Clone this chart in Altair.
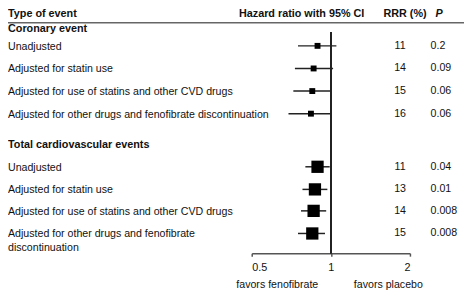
import altair as alt
import pandas as pd

# ---- data ----
labels = [
    "Unadjusted",
    "Adjusted for statin use",
    "Adjusted for use of statins and other CVD drugs",
    "Adjusted for other drugs and fenofibrate discontinuation",
    "Unadjusted",
    "Adjusted for statin use",
    "Adjusted for use of statins and other CVD drugs",
    "Adjusted for other drugs and fenofibrate\ndiscontinuation",
]
groups = ["Coronary event"] * 4 + ["Total cardiovascular events"] * 4
hr = [0.89, 0.86, 0.85, 0.84, 0.89, 0.87, 0.86, 0.85]
lo = [0.75, 0.73, 0.72, 0.69, 0.80, 0.78, 0.77, 0.75]
hi = [1.05, 1.02, 1.00, 1.00, 0.99, 0.97, 0.96, 0.95]
rrr = ["11", "14", "15", "16", "11", "13", "14", "15"]
pval = ["0.2", "0.09", "0.06", "0.06", "0.04", "0.01", "0.008", "0.008"]
row_pos = [0, 1, 2, 3, 5.35, 6.35, 7.3, 8.3]

section_titles = ["Coronary event", "Total cardiovascular events"]
section_pos = [-0.74, 4.39]

headers = ["Type of event", "Hazard ratio with 95% CI", "RRR (%)", "P"]
ticks = [0.5, 1, 2]
footer = ["favors fenofibrate", "favors placebo"]

df = pd.DataFrame({
    "label": labels, "group": groups, "hr": hr, "lo": lo, "hi": hi,
    "rrr": rrr, "p": pval, "pos": row_pos,
})
sec = pd.DataFrame({"label": section_titles, "pos": section_pos})

FONT = "Liberation Sans"
W, H = 464, 247

xscale = alt.Scale(type="log", domain=[0.5, 2], range=[248, 409])
yscale = alt.Scale(domain=[0, 10], range=[36, 266])

base = alt.Chart(df)

ci = base.mark_rule(color="#222222", strokeWidth=1.5).encode(
    x=alt.X("lo:Q", scale=xscale,
            axis=alt.Axis(values=ticks, format="~g", title=None, grid=False,
                          domainColor="#555555", domainWidth=1.5, tickColor="#555555",
                          tickWidth=1.5, tickSize=3, labelPadding=5.5,
                          labelFont=FONT, labelFontSize=11, labelColor="#111111")),
    x2="hi:Q",
    y=alt.Y("pos:Q", scale=yscale, axis=None),
)

squares = base.mark_square(filled=True, opacity=1, color="#000000").encode(
    x=alt.X("hr:Q", scale=xscale),
    y=alt.Y("pos:Q", scale=yscale),
    size=alt.Size("group:N", scale=alt.Scale(domain=section_titles, range=[36, 156]), legend=None),
)

ref_line = alt.Chart(df).mark_rule(color="#222222", strokeWidth=1.2).encode(
    x=alt.datum(1, scale=xscale), y=alt.value(22), y2=alt.value(H)
)

row_text = base.mark_text(align="left", baseline="alphabetic", dy=4, font=FONT,
                          fontSize=10.8, color="#111111", lineBreak="\n", lineHeight=14).encode(
    x=alt.value(0), y=alt.Y("pos:Q", scale=yscale), text="label:N"
)

rrr_text = base.mark_text(align="center", baseline="middle", font=FONT,
                          fontSize=10.8, color="#111111").encode(
    x=alt.value(399), y=alt.Y("pos:Q", scale=yscale), text="rrr:N"
)

p_text = base.mark_text(align="left", baseline="middle", font=FONT,
                        fontSize=10.8, color="#111111").encode(
    x=alt.value(430), y=alt.Y("pos:Q", scale=yscale), text="p:N"
)

sec_text = alt.Chart(sec).mark_text(align="left", baseline="middle", font=FONT,
                                    fontSize=11, fontWeight="bold", color="#111111").encode(
    x=alt.value(0), y=alt.Y("pos:Q", scale=yscale), text="label:N"
)

header_x = [0, 235, 382, 435]
header_layers = []
for txt, hx in zip(headers, header_x):
    header_layers.append(
        alt.Chart(pd.DataFrame({"t": [txt]})).mark_text(
            align="left", baseline="middle", font=FONT, fontSize=11, fontWeight="bold",
            fontStyle="italic" if txt == "P" else "normal", color="#111111"
        ).encode(x=alt.value(hx), y=alt.value(4), text="t:N")
    )

header_rule = alt.Chart(pd.DataFrame({"a": [0]})).mark_rule(color="#666666", strokeWidth=1.5).encode(
    x=alt.value(0), x2=alt.value(W), y=alt.value(12.5)
)

footer_x = [274, 387]
footer_layers = []
for txt, fx in zip(footer, footer_x):
    footer_layers.append(
        alt.Chart(pd.DataFrame({"t": [txt]})).mark_text(
            align="center", baseline="middle", font=FONT, fontSize=10.8, color="#111111"
        ).encode(x=alt.value(fx), y=alt.value(279), text="t:N")
    )

chart = alt.layer(
    header_rule, ref_line, ci, squares, row_text, rrr_text, p_text, sec_text,
    *header_layers, *footer_layers
).properties(
    width=W, height=H,
    autosize=alt.AutoSizeParams(type="none"),
    padding={"left": 0, "top": 0, "right": 0, "bottom": 41},
).configure_view(stroke=None)

chart.save("out.html", embed_options={"renderer": "svg", "actions": False})
